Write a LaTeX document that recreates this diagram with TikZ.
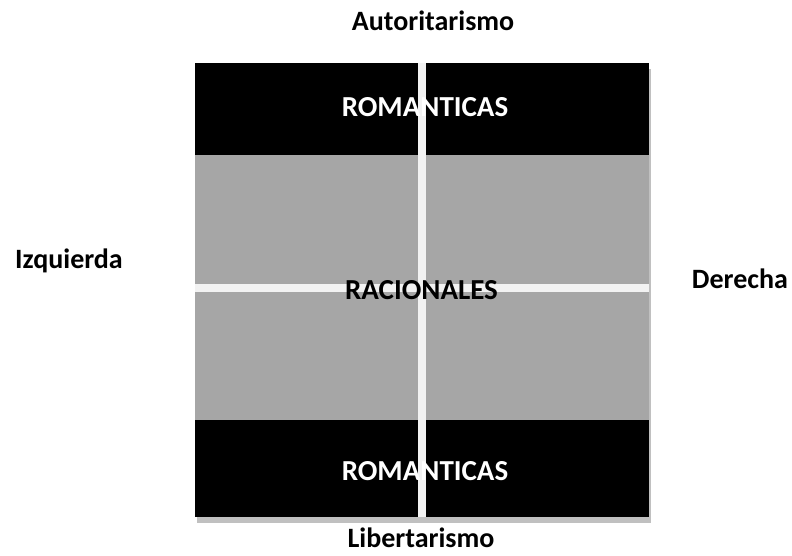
\documentclass[tikz,border=0pt]{standalone}
\usepackage{fontspec}
\setmainfont{Carlito}
\definecolor{bandgray}{HTML}{A6A6A6}
\definecolor{shadowgray}{HTML}{C0C0C0}
\definecolor{axisline}{HTML}{F2F2F2}
\tikzset{
  axislabel/.style={anchor=base,inner sep=0pt,font=\fontsize{28}{32}\selectfont\bfseries},
  bandlabel/.style={anchor=base,inner sep=0pt,font=\fontsize{29}{33}\selectfont\bfseries},
}
\begin{document}
\begin{tikzpicture}[x=1pt,y=-1pt]
  \useasboundingbox (0,0) rectangle (792,556);

  % shadow and bands
  \fill[shadowgray] (197,69) rectangle (651,523);
  \fill[bandgray] (195,155) rectangle (649,420);
  \fill[black] (195,63) rectangle (649,155);
  \fill[black] (195,420) rectangle (649,517);

  % axes
  \fill[axisline] (195,284.3) rectangle (649,292.3);
  \fill[axisline] (417.5,63) rectangle (425.5,517);

  \node[bandlabel,text=white] (romtop) at (425,117) {ROMANTICAS};
  \node[bandlabel] (racio) at (421.5,299) {RACIONALES};
  \node[bandlabel,text=white] (rombot) at (425,480) {ROMANTICAS};

  \node[axislabel] (autor) at (433,31) {Autoritarismo};
  \node[axislabel] (liber) at (421,547) {Libertarismo};
  \node[axislabel] (izq) at (69,268) {Izquierda};
  \node[axislabel] (der) at (740,288) {Derecha};
\end{tikzpicture}
\end{document}
